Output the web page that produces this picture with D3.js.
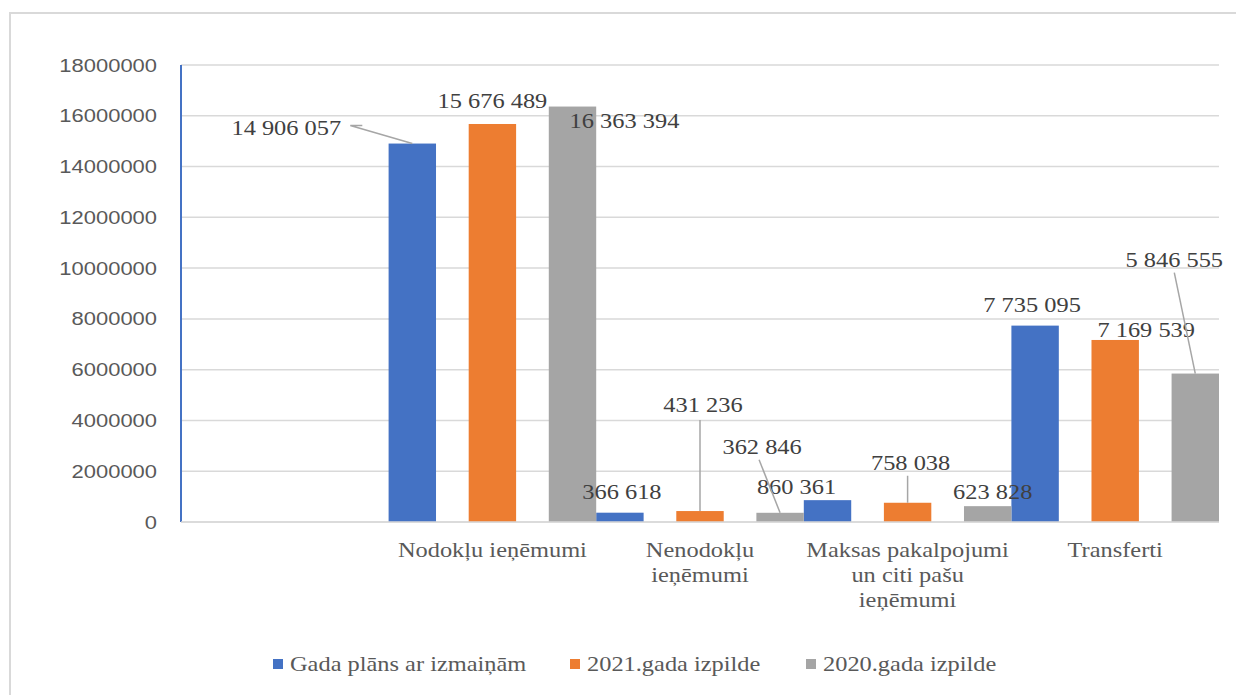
<!DOCTYPE html>
<html>
<head>
<meta charset="utf-8">
<script src="https://cdn.jsdelivr.net/npm/d3@7"></script>
<style>
  html, body { margin: 0; padding: 0; background: #fff; }
  svg { display: block; }
</style>
</head>
<body>
<svg id="chart" width="1236" height="695"></svg>
<script>
// ---- data ----
const categories = ["", "Nodokļu ieņēmumi", "Nenodokļu ieņēmumi", "Maksas pakalpojumi un citi pašu ieņēmumi", "Transferti"];
const categoryLines = [[], ["Nodokļu ieņēmumi"], ["Nenodokļu", "ieņēmumi"], ["Maksas pakalpojumi", "un citi pašu", "ieņēmumi"], ["Transferti"]];
const seriesNames = ["Gada plāns ar izmaiņām", "2021.gada izpilde", "2020.gada izpilde"];
const planValues = [null, 14906057, 366618, 860361, 7735095];
const exec2021Values = [null, 15676489, 431236, 758038, 7169539];
const exec2020Values = [null, 16363394, 362846, 623828, 5846555];
const yTicks = [0, 2000000, 4000000, 6000000, 8000000, 10000000, 12000000, 14000000, 16000000, 18000000];

// ---- layout / style (kept separate from data) ----
const colors = ["#4472c4", "#ed7d31", "#a5a5a5"];
const SX = 1.22; // horizontal text stretch seen in reference
// label offsets relative to bar top centre [dx, dy] and optional leader start
const labelLayout = {
  "1-0": { dx: -126, dy: -16, leader: [[-50, -18], [-62, -18]] },
  "1-1": { dx: 0, dy: -23 },
  "1-2": { dx: 52, dy: 14 },
  "2-0": { dx: 2, dy: -21 },
  "2-1": { dx: 3, dy: -106, leader: [[0, -91]] },
  "2-2": { dx: -18, dy: -66, leader: [[-21, -53]] },
  "3-0": { dx: -31, dy: -13 },
  "3-1": { dx: 3, dy: -40, leader: [[0, -27]] },
  "3-2": { dx: 5, dy: -14 },
  "4-0": { dx: -3, dy: -21 },
  "4-1": { dx: 31, dy: -10 },
  "4-2": { dx: -21, dy: -114, leader: [[-21, -101]] }
};

const svg = d3.select("#chart");
const margin = { left: 181, right: 1219, top: 65, bottom: 522 };

// frame
svg.append("path")
  .attr("d", `M10,${695} L10,13 L1236,13`)
  .attr("fill", "none").attr("stroke", "#d9d9d9").attr("stroke-width", 2);

const x = d3.scaleBand().domain(categories).range([margin.left, margin.right]).padding(0);
const xs = d3.scaleBand().domain(seriesNames).range([0, x.bandwidth()]).paddingInner(0.408).paddingOuter(0);
const y = d3.scaleLinear().domain([0, 18000000]).range([margin.bottom, margin.top]);

function stretchedText(g, tx, ty, str, opts) {
  return g.append("text")
    .attr("transform", `translate(${tx},${ty}) scale(${SX},1)`)
    .attr("text-anchor", opts.anchor || "middle")
    .attr("font-family", opts.family || "'Liberation Serif', 'Times New Roman', serif")
    .attr("font-size", opts.size || 20)
    .attr("fill", opts.fill || "#404040")
    .text(str);
}

// gridlines
const grid = svg.append("g");
grid.selectAll("line").data(yTicks).join("line")
  .attr("x1", margin.left).attr("x2", margin.right)
  .attr("y1", d => y(d)).attr("y2", d => y(d))
  .attr("stroke", "#d9d9d9").attr("stroke-width", 1.5);

// y axis tick labels
const yAxisG = svg.append("g");
yTicks.forEach(t => {
  stretchedText(yAxisG, 157, y(t) + 6.5, String(t), { anchor: "end", family: "'Liberation Sans', Arial, sans-serif", size: 18, fill: "#595959" });
});
// y axis line (blue)
svg.append("line")
  .attr("x1", margin.left).attr("x2", margin.left)
  .attr("y1", y(18000000)).attr("y2", y(0))
  .attr("stroke", "#4472c4").attr("stroke-width", 2);

// bars
const seriesValues = [planValues, exec2021Values, exec2020Values];
const barsG = svg.append("g");
const barData = [];
seriesValues.forEach((vals, si) => {
  vals.forEach((v, ci) => {
    if (v == null) return;
    barData.push({ si, ci, v, cat: categories[ci], ser: seriesNames[si] });
  });
});
barsG.selectAll("rect").data(barData).join("rect")
  .attr("x", d => x(d.cat) + xs(d.ser))
  .attr("width", xs.bandwidth())
  .attr("y", d => y(d.v))
  .attr("height", d => y(0) - y(d.v))
  .attr("fill", d => colors[d.si]);

// bottom axis line
svg.append("line")
  .attr("x1", margin.left).attr("x2", margin.right)
  .attr("y1", y(0)).attr("y2", y(0))
  .attr("stroke", "#d9d9d9").attr("stroke-width", 1.5);

// data labels
const fmt = v => d3.format(",")(v).replace(/,/g, " ");
const labelsG = svg.append("g");
barData.forEach(d => {
  const bx = x(d.cat) + xs(d.ser) + xs.bandwidth() / 2;
  const by = y(d.v);
  const L = labelLayout[`${d.ci}-${d.si}`] || { dx: 0, dy: -20 };
  if (L.leader) {
    const pts = L.leader.map(p => [bx + p[0], by + p[1]]);
    pts.push([bx, by]);
    labelsG.append("path")
      .attr("d", d3.line()(pts))
      .attr("fill", "none").attr("stroke", "#a6a6a6").attr("stroke-width", 1.5);
  }
  stretchedText(labelsG, bx + L.dx, by + L.dy + 7, fmt(d.v), { size: 20, fill: "#404040" });
});

// category labels
const catG = svg.append("g");
categories.forEach((c, i) => {
  const cx = x(c) + x.bandwidth() / 2;
  categoryLines[i].forEach((line, li) => {
    stretchedText(catG, cx, 557 + li * 25, line, { size: 20, fill: "#595959" });
  });
});

// legend
const legendX = [273, 570, 806];
const legG = svg.append("g");
seriesNames.forEach((n, i) => {
  legG.append("rect").attr("x", legendX[i]).attr("y", 659).attr("width", 10).attr("height", 10).attr("fill", colors[i]);
  stretchedText(legG, legendX[i] + 17, 671, n, { anchor: "start", size: 20, fill: "#595959" });
});
</script>
</body>
</html>
